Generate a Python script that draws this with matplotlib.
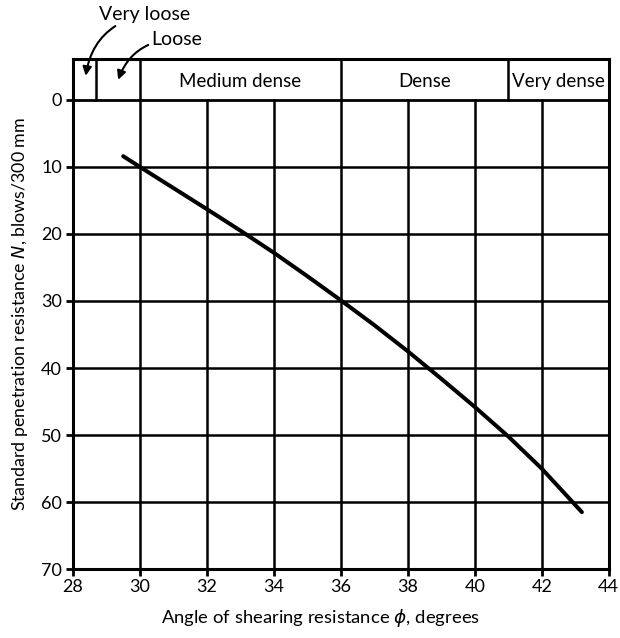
import matplotlib
matplotlib.use("Agg")
import matplotlib.pyplot as plt

plt.rcParams['font.family'] = ['Lato', 'DejaVu Sans']
plt.rcParams['mathtext.fontset'] = 'dejavusans'

# Data
phi = [29.5, 30.0, 32.0, 33.0, 34.0, 35.0, 36.0, 37.0, 38.0, 39.0, 40.0, 41.0, 42.0, 43.2]
N = [8.4, 10.0, 16.3, 19.5, 22.8, 26.3, 29.9, 33.6, 37.5, 41.6, 45.8, 50.2, 55.0, 61.5]

x_ticks = [28, 30, 32, 34, 36, 38, 40, 42, 44]
y_ticks = [0, 10, 20, 30, 40, 50, 60, 70]

band_edges = [28, 28.7, 30, 36, 41, 44]
band_labels = ["", "", "Medium dense", "Dense", "Very dense"]
band_top = -6.1

fig = plt.figure(figsize=(6.2, 6.38), dpi=100)
ax = fig.add_axes([0.1177, 0.108, 0.864, 0.7995])

ax.set_xlim(28, 44)
ax.set_ylim(70, band_top)

# grid lines in main area
for xv in x_ticks[1:-1]:
    ax.plot([xv, xv], [0, 70], color='black', lw=1.8, zorder=1)
for yv in y_ticks[1:-1]:
    ax.plot([28, 44], [yv, yv], color='black', lw=1.8, zorder=1)
ax.plot([28, 44], [0, 0], color='black', lw=2.0, zorder=1)

# band dividers
for xv in band_edges[1:-1]:
    ax.plot([xv, xv], [band_top, 0], color='black', lw=1.8, zorder=1)
for i, lab in enumerate(band_labels):
    if lab:
        ax.text((band_edges[i] + band_edges[i + 1]) / 2, band_top / 2 + 0.3, lab,
                ha='center', va='center', fontsize=13.5)

# curve
ax.plot(phi, N, color='black', lw=2.9, solid_capstyle='round',
        solid_joinstyle='round', zorder=3)

for s in ax.spines.values():
    s.set_linewidth(2.2)

ax.set_xticks(x_ticks)
ax.set_yticks(y_ticks)
ax.tick_params(axis='both', direction='out', length=5, width=2.0, labelsize=13)
ax.tick_params(axis='x', pad=2)
ax.tick_params(axis='y', pad=3)

ax.set_xlabel(r"Angle of shearing resistance $\phi$, degrees", fontsize=13.3)
ax.xaxis.set_label_coords(0.463, -0.074)
ax.set_ylabel(r"Standard penetration resistance $N$, blows/300 mm", fontsize=12.8, labelpad=8)

# annotations
ax.annotate("Very loose", xy=(28.38, -3.6), xytext=(28.78, -12.7),
            fontsize=14, ha='left', va='center', annotation_clip=False,
            arrowprops=dict(arrowstyle='-|>', color='black', lw=1.5,
                            mutation_scale=13,
                            shrinkA=0, shrinkB=0,
                            connectionstyle='arc3,rad=0.35'))
ax.annotate("Loose", xy=(29.35, -3.0), xytext=(30.33, -9.0),
            fontsize=14, ha='left', va='center', annotation_clip=False,
            arrowprops=dict(arrowstyle='-|>', color='black', lw=1.5,
                            mutation_scale=13,
                            shrinkA=0, shrinkB=0,
                            connectionstyle='arc3,rad=0.35'))

fig.savefig("out.png", dpi=100)
